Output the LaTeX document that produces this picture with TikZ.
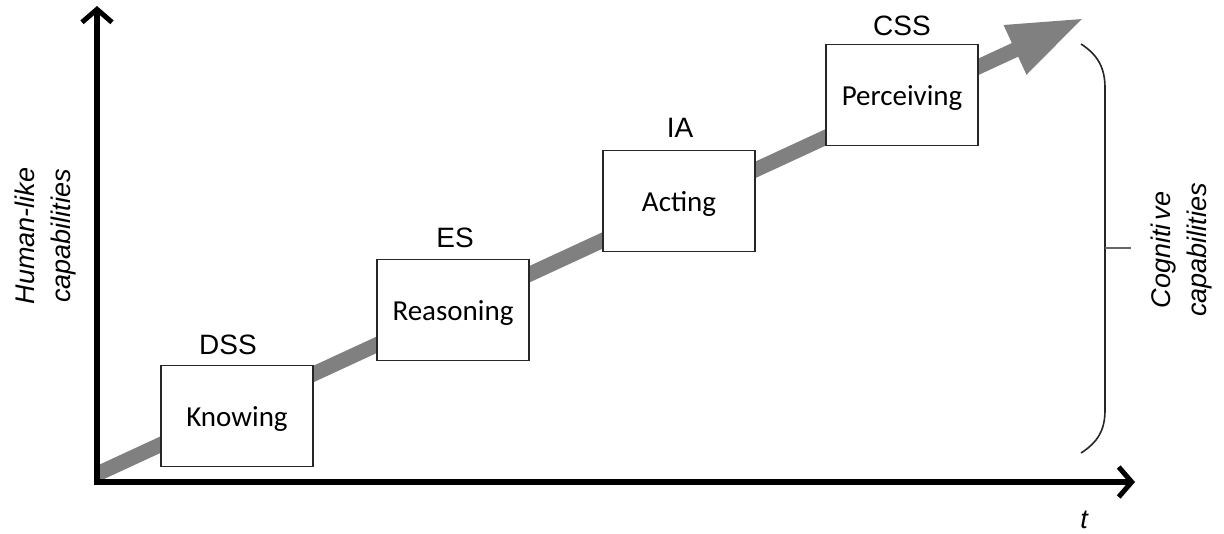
\documentclass[tikz,border=0pt]{standalone}
\usepackage{fontspec}
\setmainfont{Liberation Sans}
\newfontfamily\boxfont{Carlito}
\usetikzlibrary{arrows.meta}
\begin{document}
\begin{tikzpicture}[x=1pt,y=-1pt,
  stage/.style={draw=black!85,line width=1.4pt,fill=white,minimum width=152pt,
    minimum height=101pt,inner sep=0pt,text height=24pt,text depth=2.4pt,
    font=\boxfont\fontsize{29}{33}\selectfont},
  tag/.style={font=\fontsize{28}{32}\selectfont,inner sep=0pt},
  axis/.style={line width=5.5pt,-{Straight Barb[length=13pt,width=30pt,line width=5pt]}},
  axislabel/.style={font=\itshape\fontsize{27}{36}\selectfont,inner sep=0pt,align=center}]
\useasboundingbox (0,0) rectangle (1224,533);
% coordinates of the frame
\coordinate (origin) at (97,482);
\coordinate (ytop) at (97,6);
\coordinate (xend) at (1135,482);
\coordinate (gstart) at (97,474);
\coordinate (gtip) at (1084,18);
% rising gray arrow
\draw[line width=15pt,draw=black!50,-{Triangle[length=76pt,width=50pt]}] (gstart) -- (gtip);
% stages
\node[stage] (k) at (237,416) {Knowing};
\node[stage] (r) at (453,310) {Reasoning};
\node[stage] (a) at (679,201) {Acting};
\node[stage] (p) at (902,95) {Perceiving};
\node[tag] (dss) at (228,345) {DSS};
\node[tag] (es) at (455,238) {ES};
\node[tag] (ia) at (680,128) {IA};
\node[tag] (css) at (902,26) {CSS};
% axes
\draw[axis] ([yshift=2.75pt]origin) -- (ytop);
\draw[axis] ([xshift=-2.75pt]origin) -- (xend);
\node[axislabel] (t) at (1084,520) {t};
\node[axislabel,rotate=90] (hl) at (46,236) {Human-like\\capabilities};
% brace for cognitive capabilities
\coordinate (btop) at (1081,44);
\coordinate (bbot) at (1081,453);
\coordinate (bmid) at (1105,248);
\coordinate (btick) at (1131,248);
\draw[line width=1.6pt,black!85] (btop) .. controls (1098,55) and (1105,68) .. (1105,88)
  -- (1105,410) .. controls (1105,430) and (1098,442) .. (bbot);
\draw[line width=1.2pt,black!60] (bmid) -- (btick);
\node[axislabel,rotate=90] (cc) at (1182,250) {Cogniti\kern4pt ve\\capabilities};
\end{tikzpicture}
\end{document}
